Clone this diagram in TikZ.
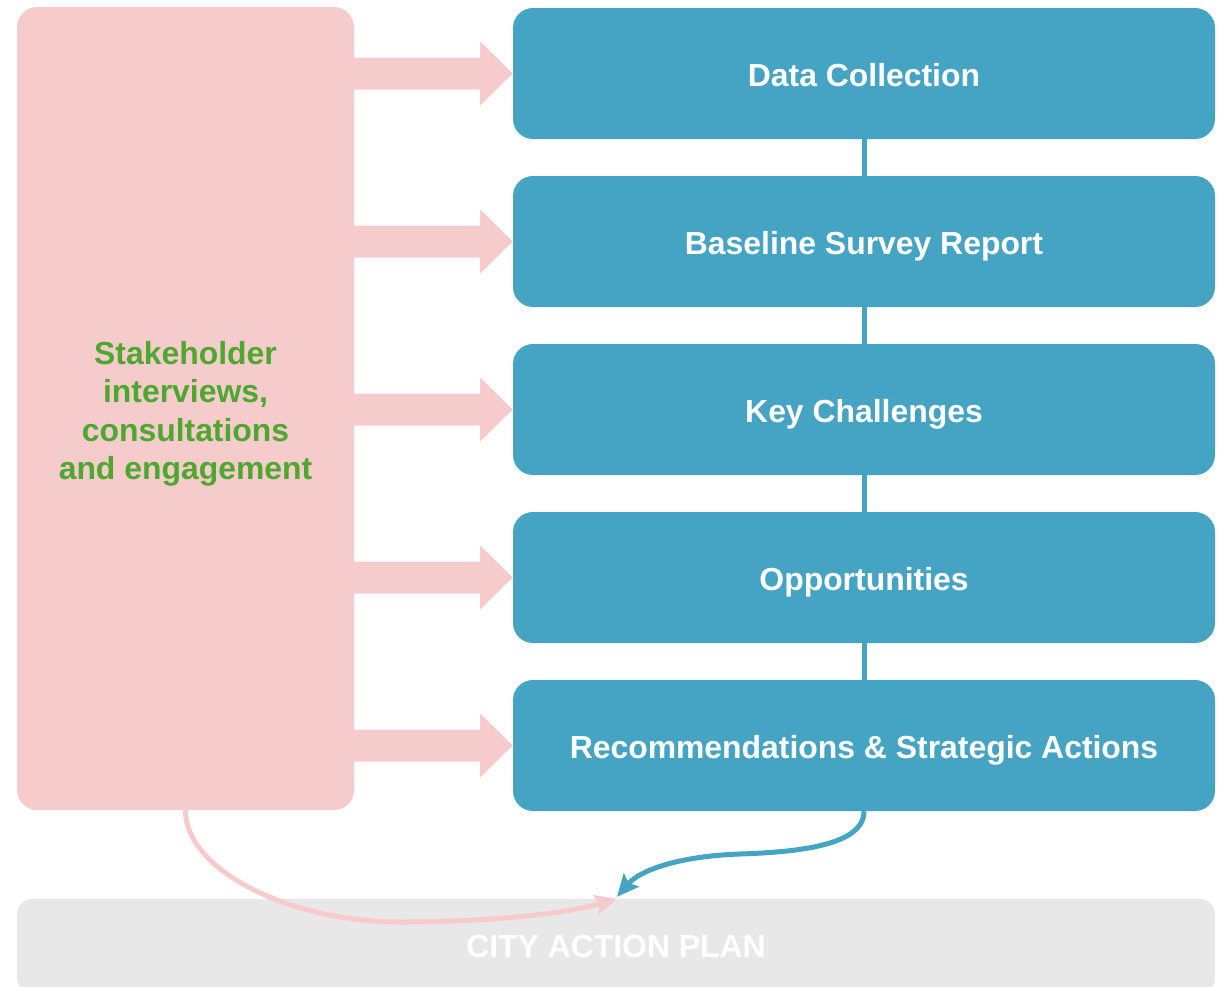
\documentclass[tikz,border=0pt]{standalone}
\usepackage{fontspec}
\setmainfont{Liberation Sans}
\usetikzlibrary{arrows.meta,calc}
\definecolor{pinkc}{HTML}{F5CBCB}
\definecolor{bluec}{HTML}{45A3C4}
\definecolor{greenc}{HTML}{4EA72E}
\definecolor{greyc}{HTML}{E8E8E8}
\tikzset{
  txt/.style={font=\fontsize{31.9}{38.5}\selectfont\bfseries},
  stepbox/.style={txt, fill=bluec, text=white, rounded corners=20pt, minimum width=702pt, minimum height=131pt, inner sep=0pt, text height=25pt, text depth=0pt},
  stakebox/.style={txt, fill=pinkc, text=greenc, rounded corners=20pt, minimum width=337pt, minimum height=803pt, align=center, inner sep=0pt},
  planbox/.style={txt, fill=greyc, text=white, rounded corners=15pt, minimum width=1198pt, minimum height=94pt, inner sep=0pt, text height=23pt, text depth=0pt},
  vlink/.style={draw=bluec, line width=5pt},
  pinkcurve/.style={draw=pinkc, line width=5pt, -{Stealth[length=22pt,width=20pt,inset=4pt]}},
  bluecurve/.style={draw=bluec, line width=5pt, -{Stealth[length=22pt,width=20pt,inset=4pt]}},
}
\begin{document}
\begin{tikzpicture}[x=1pt,y=-1pt]
\useasboundingbox (0,0) rectangle (1223,986);
\node[stakebox] (stake) at (185.5,408.5) {\rule{0pt}{34pt}Stakeholder\\interviews,\\consultations\\and engagement};
\node[stepbox] (b1) at (864,73.5) {Data Collection};
\node[stepbox] (b2) at (864,241.5) {Baseline Survey Report};
\node[stepbox] (b3) at (864,409.5) {Key Challenges};
\node[stepbox] (b4) at (864,577.5) {Opportunities};
\node[stepbox] (b5) at (864,745.5) {Recommendations \& Strategic Actions};
\node[planbox] (plan) at (616,946) {CITY ACTION PLAN};
% fat arrows
\foreach \b in {b1,b2,b3,b4,b5}{
  \coordinate (s) at ($(stake.east |- \b.west)+(-1,0)$);
  \fill[pinkc] ($(s)+(0,-16)$) -- ($(s)+(127,-16)$) -- ($(s)+(127,-32)$) -- (\b.west)
     -- ($(s)+(127,32)$) -- ($(s)+(127,16)$) -- ($(s)+(0,16)$) -- cycle;
}
% vertical links
\draw[vlink] (b1.south) -- (b2.north);
\draw[vlink] (b2.south) -- (b3.north);
\draw[vlink] (b3.south) -- (b4.north);
\draw[vlink] (b4.south) -- (b5.north);
% curves
\draw[pinkcurve] (stake.south) .. controls (185,870) and (290,922) .. (400,922) .. controls (480,922) and (560,915) .. ($(plan.north)+(1,0)$);
\draw[bluecurve] (b5.south) .. controls (864,845) and (800,852) .. (740,854) .. controls (680,856) and (640,870) .. ($(plan.north)+(1,-2)$);
\end{tikzpicture}
\end{document}
